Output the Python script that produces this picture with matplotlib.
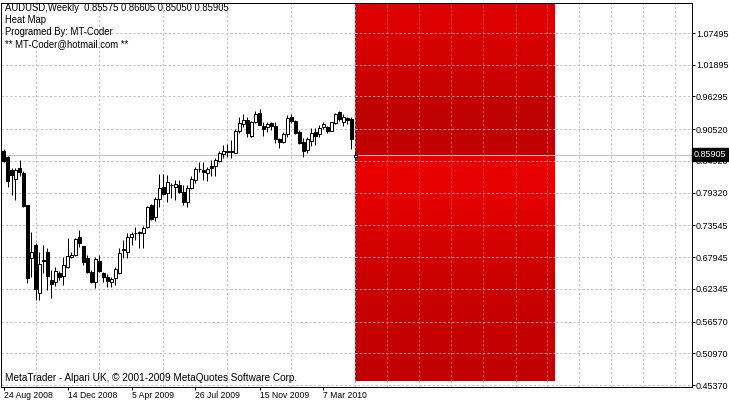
import matplotlib
matplotlib.use('Agg')
import matplotlib.pyplot as plt
import matplotlib.transforms as mtransforms
from matplotlib import font_manager
import numpy as np

# weekly AUDUSD candles, 24 Aug 2008 .. 2 May 2010
opens = [
    .8667, .8562, .8332, .8173, .8367, .8279, .7714, .6779, .7008, .6161,
    .6717, .6884, .6391, .6355, .6520, .6461, .6620, .6796, .6832, .7149,
    .6990, .6779, .6532, .6355, .6726, .6514, .6444, .6355, .6426, .6514,
    .6920, .6884, .7149, .7220, .7238, .7220, .7326, .7714, .7502, .7820,
    .8032, .7926, .8067, .8032, .8067, .7944, .7767, .8014, .8156, .8345,
    .8332, .8279, .8403, .8403, .8491, .8614, .8667, .8667, .8632, .9020,
    .9144, .9214, .8932, .9179, .9338, .9108, .9091, .9161, .9108, .8879,
    .8826, .8967, .9267, .9197, .9002, .8826, .8685, .8844, .9002, .8967,
    .9091, .9091, .9020, .9161, .9356, .9179, .9250, .9232, .85575]
highs = [
    .8703, .8579, .8367, .8367, .8509, .8314, .7714, .7238, .7043, .6884,
    .7008, .6955, .6567, .6620, .6549, .6796, .7132, .6884, .7132, .7273,
    .6990, .6832, .6567, .6796, .6832, .6532, .6497, .6444, .6620, .6955,
    .7096, .7220, .7238, .7326, .7255, .7343, .7697, .7732, .7855, .8261,
    .8261, .8244, .8102, .8156, .8156, .8067, .8067, .8226, .8385, .8473,
    .8473, .8385, .8509, .8544, .8667, .8773, .8791, .8861, .9055, .9267,
    .9320, .9267, .9197, .9373, .9409, .9179, .9179, .9179, .9179, .8897,
    .9002, .9303, .9320, .9214, .9038, .8897, .8914, .9073, .9073, .9126,
    .9179, .9108, .9179, .9338, .9373, .9320, .9267, .9267, .86605]
lows = [
    .8473, .8032, .7891, .7802, .8226, .7679, .6338, .6444, .6038, .6038,
    .6514, .6214, .6073, .6285, .6391, .6302, .6600, .6779, .6814, .6973,
    .6655, .6514, .6338, .6249, .6532, .6355, .6267, .6267, .6302, .6497,
    .6779, .6779, .7008, .7096, .6955, .6955, .7308, .7450, .7432, .7679,
    .7891, .7767, .7838, .7802, .7926, .7714, .7679, .7997, .8102, .8297,
    .8156, .8138, .8226, .8226, .8473, .8544, .8562, .8544, .8632, .8985,
    .9091, .8914, .8914, .9161, .9126, .8932, .9002, .9038, .8808, .8720,
    .8808, .8914, .9161, .8967, .8791, .8562, .8632, .8755, .8773, .8914,
    .9055, .8985, .9020, .9144, .9197, .9108, .9144, .8703, .85050]
closes = [
    .8491, .8138, .8244, .8332, .8297, .7697, .6426, .6884, .6232, .6673,
    .6743, .6461, .6320, .6549, .6450, .6655, .6814, .6832, .7114, .7043,
    .6708, .6532, .6355, .6761, .6549, .6444, .6373, .6408, .6585, .6867,
    .6937, .7149, .7202, .7225, .7220, .7308, .7679, .7467, .7820, .8014,
    .7908, .8120, .8070, .8085, .7944, .7767, .8014, .8173, .8350, .8350,
    .8297, .8350, .8367, .8509, .8632, .8667, .8650, .8650, .9020, .9161,
    .9214, .8985, .9179, .9320, .9126, .9055, .9144, .9108, .8879, .8826,
    .8967, .9250, .9197, .8985, .8808, .8667, .8879, .8985, .8932, .9073,
    .9144, .9020, .9179, .9320, .9232, .9267, .9214, .8879, .85905]

date_labels = ['24 Aug 2008', '14 Dec 2008', '5 Apr 2009', '26 Jul 2009',
               '15 Nov 2009', '7 Mar 2010']
price_ticks = [1.07495, 1.01895, 0.96295, 0.90520, 0.84920, 0.79320,
               0.73545, 0.67945, 0.62345, 0.56570, 0.50970, 0.45370]

# heat map bands: price edges (top -> bottom) and red level of each band
heat_edges = [1.1300, 1.1032, 1.0750, 1.0467, 1.0185, 0.9903, 0.9620, 0.9338,
              0.9055, 0.8773, 0.85905, 0.8208, 0.7926, 0.7644, 0.7361, 0.7079,
              0.6796, 0.6514, 0.6232, 0.5949, 0.5667, 0.5385, 0.5102, 0.4820,
              0.4607]
heat_red = [222, 220, 214, 210, 204, 200, 193, 190, 192, 195,
            232, 230, 226, 222, 216, 210, 206, 202, 200, 198,
            197, 196, 195, 194]
heat_bars = 50

symbol = 'AUDUSD,Weekly'
last_price = closes[-1]


def pick_font(names):
    for n in names:
        try:
            font_manager.findfont(n, fallback_to_default=False)
            return n
        except ValueError:
            continue
    return 'DejaVu Sans'


font = pick_font(['Liberation Sans Narrow', 'Liberation Sans'])
plt.rcParams['font.family'] = [font, 'DejaVu Sans']
YFS = 6.5
XFS = 6.2

W, H = 729, 404
fig = plt.figure(figsize=(W / 100, H / 100), dpi=100)
ax = fig.add_axes([1 / W, (H - 386.5) / H, 691 / W, 384 / H])

n = len(opens)
idx = np.arange(n)
o, h, l, c = map(np.array, (opens, highs, lows, closes))
grid_c = '#C0C0C0'
dash = (0, (2.2, 2.2))
px = 0.72

# heat map
edges = np.array(heat_edges)
last = idx[-1]
ax.bar(np.full(len(heat_red), last), edges[:-1] - edges[1:], bottom=edges[1:],
       width=heat_bars, align='edge',
       color=[(r / 255, 0, 0) for r in heat_red], zorder=1)

# grid
ax.set_xticks(idx[::16][:len(date_labels)], date_labels)
ax.set_xticks(np.arange(0, 173, 8), minor=True)
ax.grid(which='minor', axis='x', color=grid_c, ls=dash, lw=px, zorder=0.5)
ax.grid(which='major', axis='y', color=grid_c, ls=dash, lw=px, zorder=0.5)
ax.set_axisbelow(True)

hx = np.arange(0, 173, 8)
hx = hx[(hx > last) & (hx < last + heat_bars)]
ax.vlines(np.r_[last, hx], edges[-1], edges[0], colors='#F05050', linestyles=dash,
          lw=px, zorder=1.5)
yt = np.array(price_ticks)
ax.hlines(yt[(yt < edges[0]) & (yt > edges[-1])], last, last + heat_bars,
          colors='#EBA5A5', linestyles=dash, lw=px, zorder=1.5)

# current price line
ax.axhline(last_price, color=grid_c, lw=px, zorder=2)

# candles
ax.vlines(idx, l, h, colors='black', lw=px, zorder=3)
up = c >= o
ax.bar(idx, np.abs(c - o), bottom=np.minimum(o, c), width=0.55,
       color=np.where(up, 'white', 'black'), edgecolor='black', lw=px, zorder=4)

ax.set_xlim(-0.625, 172.125)
ax.set_ylim(0.45107, 1.12882)
ax.set_yticks(price_ticks, [f'{v:.5f}' for v in price_ticks])
ax.yaxis.tick_right()
ax.tick_params(axis='y', direction='out', length=2.2, width=px, pad=0.6,
               labelsize=YFS, colors='black')
ax.tick_params(axis='x', which='major', direction='out', length=2.2, width=px,
               pad=1.2, labelsize=XFS)
ax.tick_params(axis='x', which='minor', length=0)
for t in ax.get_xticklabels():
    t.set_horizontalalignment('left')
for s in ax.spines.values():
    s.set_color('black')
    s.set_linewidth(px)

# current price tag
tr = mtransforms.blended_transform_factory(ax.transAxes, ax.transData)
ax.text(1.003, last_price + 0.002, f'{last_price:.5f}', transform=tr,
        color='white', fontsize=YFS, va='center', ha='left', clip_on=False,
        zorder=10, bbox=dict(boxstyle='square,pad=0.2', fc='black', ec='black'))

# text block
head = f'{symbol}  {opens[-1]:.5f} {highs[-1]:.5f} {lows[-1]:.5f} {closes[-1]:.5f}'
lines = [head, 'Heat Map', 'Programed By: MT-Coder', '** MT-Coder@hotmail.com **']
for k, s in enumerate(lines):
    fig.text(5 / W, 1 - (3 + 12 * k) / H, s, fontsize=6.85, va='top', ha='left')
fig.text(5 / W, 1 - 378 / H, 'MetaTrader - Alpari UK, \u00a9 2001-2009 MetaQuotes Software Corp.',
         fontsize=7.2, va='center', ha='left')

fig.savefig('out.png', dpi=100)
